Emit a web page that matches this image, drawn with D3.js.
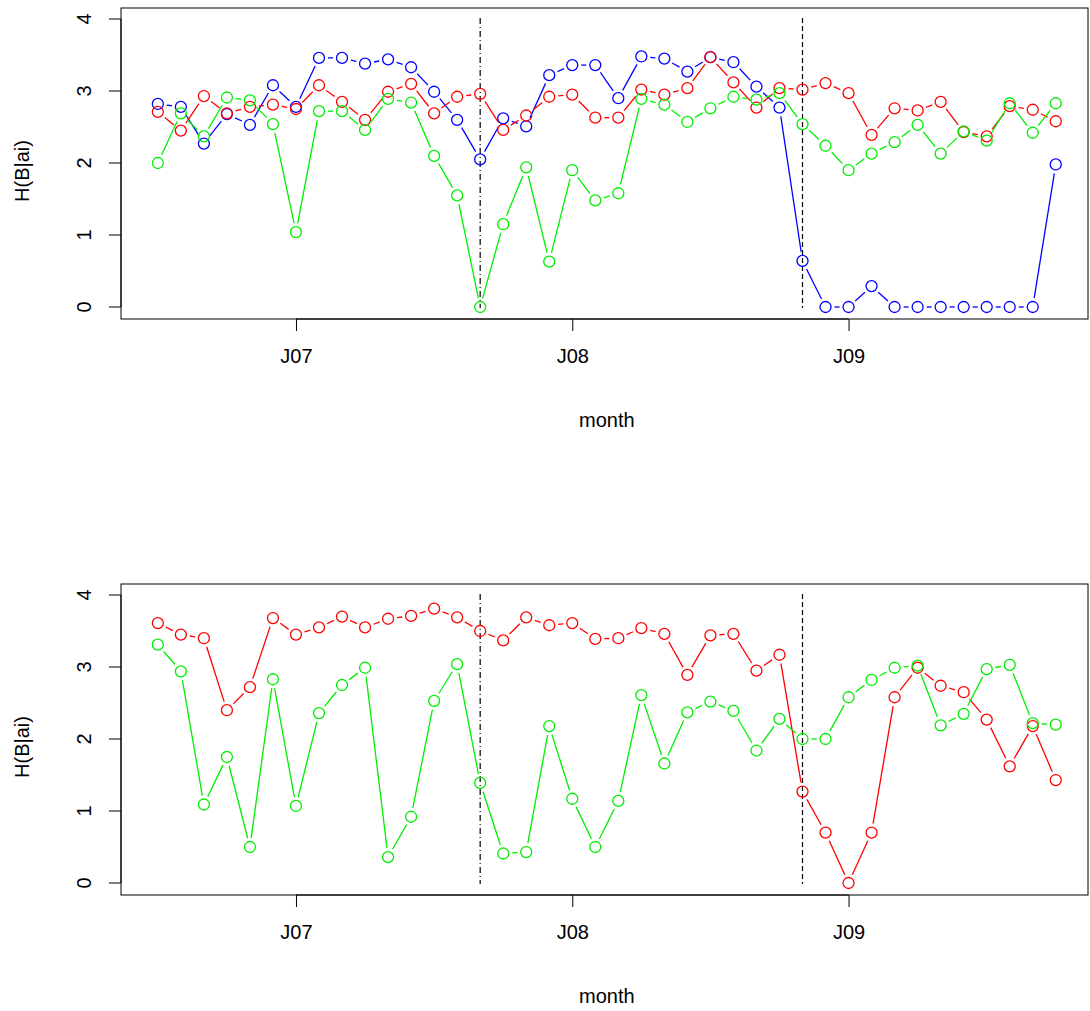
<!DOCTYPE html>
<html><head><meta charset="utf-8">
<script src="https://cdn.jsdelivr.net/npm/d3@7"></script>
<style>body{margin:0;background:#fff}text{font-family:"Liberation Sans",Arial,sans-serif}</style>
</head><body>
<script>
// month index: 0 = Jan 2007
var months = d3.range(-6, 34);
var tickMonths = [0, 12, 24], tickLabels = ["J07", "J08", "J09"];
var yTicks = [0, 1, 2, 3, 4];
var breaks = [8, 22];

var topBlue = [2.82,2.78,2.27,2.68,2.53,3.08,2.78,3.46,3.46,3.38,3.44,3.33,2.99,2.60,2.05,2.62,2.51,3.22,3.36,3.36,2.90,3.48,3.45,3.27,3.47,3.40,3.06,2.77,0.64,0,0,0.29,0,0,0,0,0,0,0,1.98];
var topRed = [2.71,2.45,2.93,2.69,2.78,2.81,2.75,3.08,2.85,2.60,2.99,3.10,2.69,2.92,2.96,2.46,2.66,2.92,2.95,2.63,2.63,3.02,2.95,3.04,3.47,3.12,2.77,3.04,3.02,3.11,2.97,2.39,2.76,2.73,2.85,2.43,2.37,2.79,2.74,2.58];
var topGreen = [2.00,2.69,2.37,2.91,2.87,2.54,1.04,2.72,2.72,2.46,2.89,2.84,2.10,1.55,0.00,1.15,1.94,0.63,1.90,1.48,1.58,2.89,2.81,2.57,2.76,2.92,2.88,2.97,2.54,2.24,1.90,2.13,2.29,2.53,2.13,2.44,2.31,2.83,2.42,2.83];
var botRed = [3.61,3.45,3.40,2.40,2.72,3.68,3.45,3.55,3.70,3.55,3.67,3.71,3.81,3.69,3.50,3.37,3.69,3.58,3.61,3.39,3.40,3.54,3.46,2.89,3.44,3.46,2.95,3.17,1.27,0.70,0.00,0.70,2.58,2.99,2.74,2.65,2.27,1.62,2.18,1.43];
var botGreen = [3.31,2.94,1.09,1.75,0.50,2.83,1.07,2.36,2.75,2.99,0.36,0.92,2.53,3.04,1.39,0.41,0.43,2.18,1.17,0.50,1.14,2.61,1.66,2.37,2.52,2.39,1.84,2.28,2.00,2.00,2.58,2.82,2.99,3.02,2.19,2.35,2.97,3.03,2.22,2.20];

var svg = d3.select("body").append("svg").attr("width", 1090).attr("height", 1011);
var x = d3.scaleLinear().domain([-7.6, 34.4]).range([121, 1088]);

function panel(top, series) {
  var y = d3.scaleLinear().domain([-0.1667, 4.153]).range([top + 311, top]);
  var g = svg.append("g");
  g.append("rect").attr("x", 121).attr("y", top).attr("width", 967).attr("height", 311)
    .attr("fill", "none").attr("stroke", "#000");
  var ya = g.append("g").attr("transform", "translate(121,0)")
    .call(d3.axisLeft(y).tickValues(yTicks).tickSize(12).tickPadding(0).tickFormat(d3.format("d")));
  ya.select(".domain").remove();
  g.append("line").attr("x1", 121).attr("x2", 121).attr("y1", y(0)).attr("y2", y(4)).attr("stroke", "#000");
  ya.selectAll("text").attr("font-size", 20).attr("transform", function(d) { return "translate(-30," + y(d) + ") rotate(-90)"; })
    .attr("x", 0).attr("y", 0).attr("dy", 0).attr("text-anchor", "middle");
  ya.selectAll(".tick").attr("transform", null);
  ya.selectAll(".tick line").attr("y1", function(d) { return y(d); }).attr("y2", function(d) { return y(d); });
  var xa = g.append("g").attr("transform", "translate(0," + (top + 311) + ")")
    .call(d3.axisBottom(x).tickValues(tickMonths).tickSize(12).tickPadding(18)
      .tickFormat(function(d, i) { return tickLabels[i]; }));
  xa.select(".domain").remove();
  g.append("line").attr("x1", x(0)).attr("x2", x(24)).attr("y1", top + 311).attr("y2", top + 311).attr("stroke", "#000");
  xa.selectAll("text").attr("font-size", 20);
  g.append("text").attr("x", x(13.5)).attr("y", top + 419).attr("text-anchor", "middle").attr("font-size", 20).text("month");
  g.append("text").attr("transform", "translate(29," + (top + 163) + ") rotate(-90)").attr("text-anchor", "middle").attr("font-size", 20).text("H(B|ai)");
  breaks.forEach(function(b, i) {
    g.append("line").attr("x1", x(b)).attr("x2", x(b)).attr("y1", top + 10).attr("y2", top + 300)
      .attr("stroke", "#000").attr("stroke-width", 1.2).attr("stroke-dasharray", i === 0 ? "6,3,1,3" : "5,3");
  });
  series.forEach(function(s) {
    var pts = months.map(function(m, i) { return [x(m), y(s.v[i])]; });
    var gap = 9;
    for (var i = 1; i < pts.length; i++) {
      var a = pts[i - 1], b = pts[i], dx = b[0] - a[0], dy = b[1] - a[1], L = Math.hypot(dx, dy);
      if (L <= 2 * gap + 1) continue;
      var ux = dx / L, uy = dy / L;
      g.append("line").attr("x1", a[0] + ux * gap).attr("y1", a[1] + uy * gap)
        .attr("x2", b[0] - ux * gap).attr("y2", b[1] - uy * gap).attr("stroke", s.c).attr("stroke-width", 1.3);
    }
    g.selectAll(null).data(pts).enter().append("circle")
      .attr("cx", function(d) { return d[0]; }).attr("cy", function(d) { return d[1]; })
      .attr("r", 5.5).attr("fill", "none").attr("stroke", s.c).attr("stroke-width", 1.3);
  });
}

panel(8, [{v: topBlue, c: "#0000ff"}, {v: topRed, c: "#ff0000"}, {v: topGreen, c: "#00ee00"}]);
panel(584, [{v: botRed, c: "#ff0000"}, {v: botGreen, c: "#00ee00"}]);
</script>
</body></html>
